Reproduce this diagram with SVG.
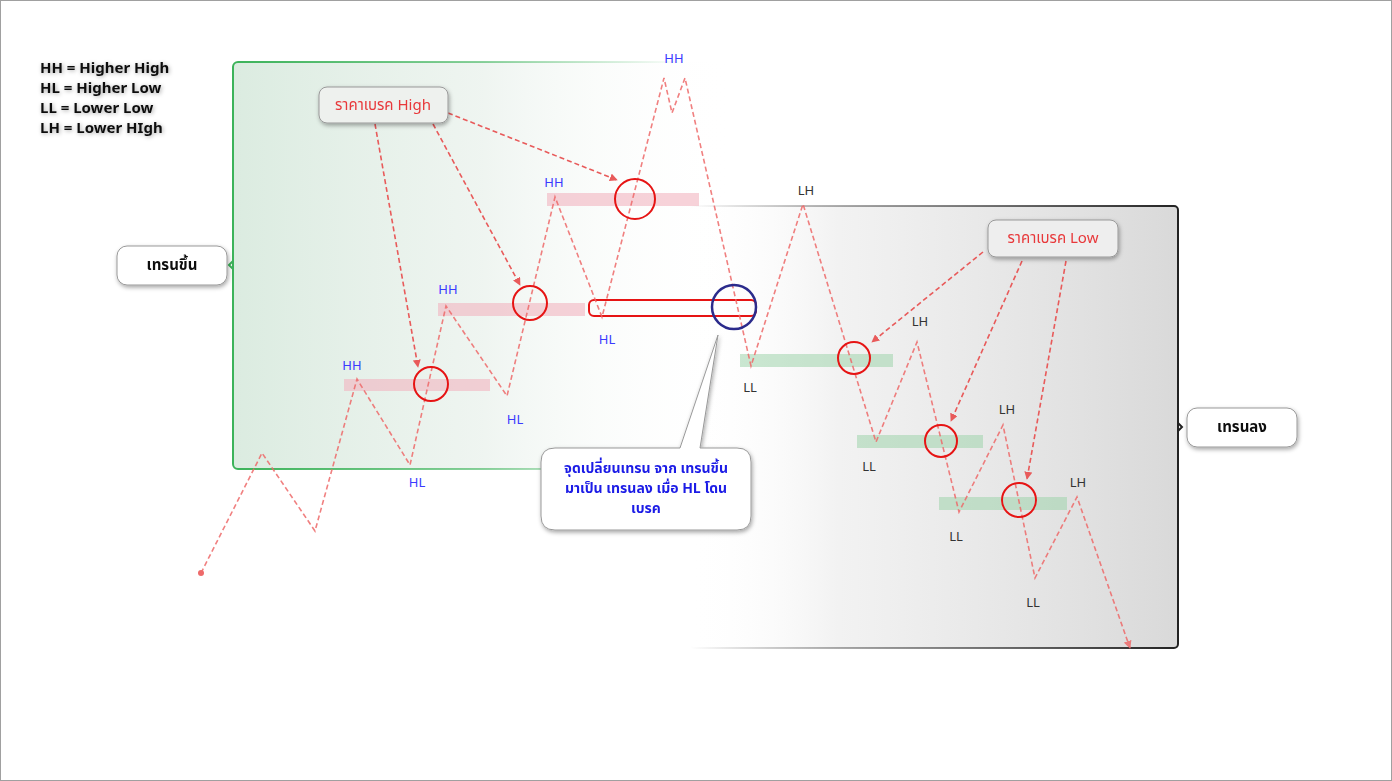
<svg xmlns="http://www.w3.org/2000/svg" width="1392" height="781" viewBox="0 0 1392 781">
<defs>
<style>
.lbl{font-family:"Noto Sans","Noto Sans Thai","Liberation Sans",sans-serif;font-size:13px;text-anchor:middle;dominant-baseline:central}
.up{fill:#3b3bff}
.dn{fill:#333}
.legend{font-family:"Noto Sans","Liberation Sans",sans-serif;font-size:15px;font-weight:bold;fill:#111}
.path{fill:none;stroke:#ee6a6a;stroke-width:1.6;stroke-dasharray:5 3;opacity:.85}
.arr{fill:none;stroke:#e85a5a;stroke-width:1.6;stroke-dasharray:5 3}
.pink{fill:#f2b4c0;opacity:.6}
.green{fill:#9fd4ab;opacity:.55}
.ring{fill:none;stroke:#e61414;stroke-width:2}
.box{fill:#fff;stroke:#999;stroke-width:1}
.thai{font-family:"Noto Sans Thai","Noto Sans","Liberation Sans",sans-serif;text-anchor:middle;dominant-baseline:central}
</style>
<linearGradient id="gFill" x1="0" y1="0" x2="1" y2="0">
<stop offset="0" stop-color="#cfe5d6" stop-opacity=".75"/>
<stop offset="0.5" stop-color="#e4eee7" stop-opacity=".6"/>
<stop offset="1" stop-color="#ffffff" stop-opacity="0"/>
</linearGradient>
<linearGradient id="gStroke" x1="0" y1="0" x2="1" y2="0">
<stop offset="0" stop-color="#3cb35a"/>
<stop offset="0.5" stop-color="#3cb35a" stop-opacity=".6"/>
<stop offset="0.9" stop-color="#3cb35a" stop-opacity="0"/>
</linearGradient>
<linearGradient id="kFill" x1="0" y1="0" x2="1" y2="0">
<stop offset="0" stop-color="#ffffff" stop-opacity="0"/>
<stop offset="0.3" stop-color="#efefef" stop-opacity=".8"/>
<stop offset="1" stop-color="#d9d9d9"/>
</linearGradient>
<linearGradient id="kStroke" x1="0" y1="0" x2="1" y2="0">
<stop offset="0" stop-color="#222" stop-opacity="0"/>
<stop offset="0.4" stop-color="#555" stop-opacity=".6"/>
<stop offset="1" stop-color="#222"/>
</linearGradient>
<filter id="sh" x="-20%" y="-30%" width="140%" height="160%">
<feDropShadow dx="1" dy="2" stdDeviation="2" flood-color="#000" flood-opacity=".35"/>
</filter>
<filter id="tsh" x="-10%" y="-30%" width="120%" height="160%">
<feDropShadow dx="1" dy="1" stdDeviation="2" flood-color="#000" flood-opacity=".35"/>
</filter>
<marker id="ah" viewBox="0 0 10 10" refX="9" refY="5" markerWidth="8" markerHeight="8" orient="auto" markerUnits="userSpaceOnUse">
<path d="M0,0 L10,5 L0,10 z" fill="#e85a5a"/>
</marker>
<marker id="ah2" viewBox="0 0 10 10" refX="9" refY="5" markerWidth="8" markerHeight="8" orient="auto" markerUnits="userSpaceOnUse">
<path d="M0,0 L10,5 L0,10 z" fill="#ee6a6a"/>
</marker>
</defs>

<rect x="0.5" y="0.5" width="1391" height="780" fill="#fff" stroke="#a0a0a0" stroke-width="1"/>

<!-- regions -->
<g id="uptrend-zone">
<rect x="233" y="62" width="500" height="407" rx="5" fill="url(#gFill)" stroke="url(#gStroke)" stroke-width="2"/>
<path d="M233,261 L229,265 L233,269" fill="none" stroke="#3cb35a" stroke-width="2"/>
</g>
<g id="downtrend-zone">
<rect x="690" y="206" width="488" height="442" rx="4" fill="url(#kFill)" stroke="url(#kStroke)" stroke-width="2"/>
<path d="M1178,423 L1182,427 L1178,431" fill="none" stroke="#222" stroke-width="2"/>
</g>

<!-- legend -->
<g id="legend" filter="url(#tsh)">
<text class="legend" x="40" y="73">HH = Higher High</text>
<text class="legend" x="40" y="93">HL = Higher Low</text>
<text class="legend" x="40" y="113">LL = Lower Low</text>
<text class="legend" x="40" y="133">LH = Lower HIgh</text>
</g>

<!-- zones bars -->
<g id="levels">
<rect class="pink" x="344" y="379" width="146" height="12"/>
<rect class="pink" x="438" y="303" width="147" height="13"/>
<rect class="pink" x="547" y="193" width="152" height="13"/>
<rect x="589" y="300" width="167" height="16" rx="5" fill="none" stroke="#e61414" stroke-width="2"/>
<rect class="green" x="740" y="354" width="153" height="13"/>
<rect class="green" x="857" y="435" width="126" height="13"/>
<rect class="green" x="939" y="497" width="128" height="13"/>
</g>

<!-- connectors -->
<g id="connectors">
<circle cx="201" cy="573" r="3" fill="#ee6a6a"/>
<polyline class="path" marker-end="url(#ah2)" points="201,573 262,453 315,531 357,379 410,465 446,306 507,396 555,197 602,317 664,78 672,113 685,78 751,366 803,204 876,442 917,342 959,512 1003,425 1035,578 1077,497 1130,648"/>
<line class="arr" x1="375" y1="124" x2="418" y2="367" marker-end="url(#ah)"/>
<line class="arr" x1="433" y1="124" x2="520" y2="285" marker-end="url(#ah)"/>
<line class="arr" x1="448" y1="113" x2="617" y2="180" marker-end="url(#ah)"/>
<line class="arr" x1="983" y1="252" x2="872" y2="342" marker-end="url(#ah)"/>
<line class="arr" x1="1022" y1="261" x2="951" y2="421" marker-end="url(#ah)"/>
<line class="arr" x1="1066" y1="261" x2="1027" y2="479" marker-end="url(#ah)"/>
</g>

<!-- break circles -->
<g id="breaks">
<circle class="ring" cx="431" cy="384" r="17"/>
<circle class="ring" cx="530" cy="303" r="17"/>
<circle class="ring" cx="635" cy="199" r="20"/>
<circle cx="734" cy="307" r="22" fill="none" stroke="#2b2b8c" stroke-width="2.5"/>
<circle class="ring" cx="854" cy="358" r="16"/>
<circle class="ring" cx="941" cy="441" r="16"/>
<circle class="ring" cx="1019" cy="500" r="17"/>
</g>

<!-- swing labels -->
<g id="swing-labels">
<text class="lbl up" x="674" y="58">HH</text>
<text class="lbl up" x="554" y="182">HH</text>
<text class="lbl up" x="448" y="289">HH</text>
<text class="lbl up" x="352" y="365">HH</text>
<text class="lbl up" x="607" y="339">HL</text>
<text class="lbl up" x="515" y="419">HL</text>
<text class="lbl up" x="417" y="482">HL</text>
<text class="lbl dn" x="806" y="190">LH</text>
<text class="lbl dn" x="750" y="387">LL</text>
<text class="lbl dn" x="920" y="321">LH</text>
<text class="lbl dn" x="869" y="466">LL</text>
<text class="lbl dn" x="1007" y="409">LH</text>
<text class="lbl dn" x="956" y="536">LL</text>
<text class="lbl dn" x="1078" y="482">LH</text>
<text class="lbl dn" x="1033" y="602">LL</text>
</g>

<!-- nodes -->
<g id="node-uptrend" filter="url(#sh)">
<rect class="box" x="117" y="246" width="110" height="39" rx="10"/>
<text class="thai" x="172" y="265" font-size="15" font-weight="bold" fill="#111">เทรนขึ้น</text>
</g>
<g id="node-downtrend" filter="url(#sh)">
<rect class="box" x="1187" y="408" width="110" height="39" rx="10"/>
<text class="thai" x="1242" y="427" font-size="15" font-weight="bold" fill="#111">เทรนลง</text>
</g>
<g id="node-break-high" filter="url(#sh)">
<rect x="319" y="87" width="129" height="36" rx="8" fill="#eef1ee" stroke="#999"/>
<text class="thai" x="383" y="105" font-size="15" fill="#e8383a">ราคาเบรค High</text>
</g>
<g id="node-break-low" filter="url(#sh)">
<rect x="988" y="220" width="130" height="37" rx="8" fill="#eeeeee" stroke="#999"/>
<text class="thai" x="1053" y="238" font-size="15" fill="#e8383a">ราคาเบรค Low</text>
</g>
<g id="node-callout" filter="url(#sh)">
<path d="M555,448 L680,448 L718,335 L700,448 L737,448 Q751,448 751,462 L751,516 Q751,530 737,530 L555,530 Q541,530 541,516 L541,462 Q541,448 555,448 Z" fill="#fff" stroke="#999"/>
<text class="thai" x="646" y="468" font-size="14" font-weight="bold" fill="#1a1ae6">จุดเปลี่ยนเทรน จาก เทรนขึ้น</text>
<text class="thai" x="646" y="488" font-size="14" font-weight="bold" fill="#1a1ae6">มาเป็น เทรนลง เมื่อ HL โดน</text>
<text class="thai" x="646" y="508" font-size="14" font-weight="bold" fill="#1a1ae6">เบรค</text>
</g>
</svg>
